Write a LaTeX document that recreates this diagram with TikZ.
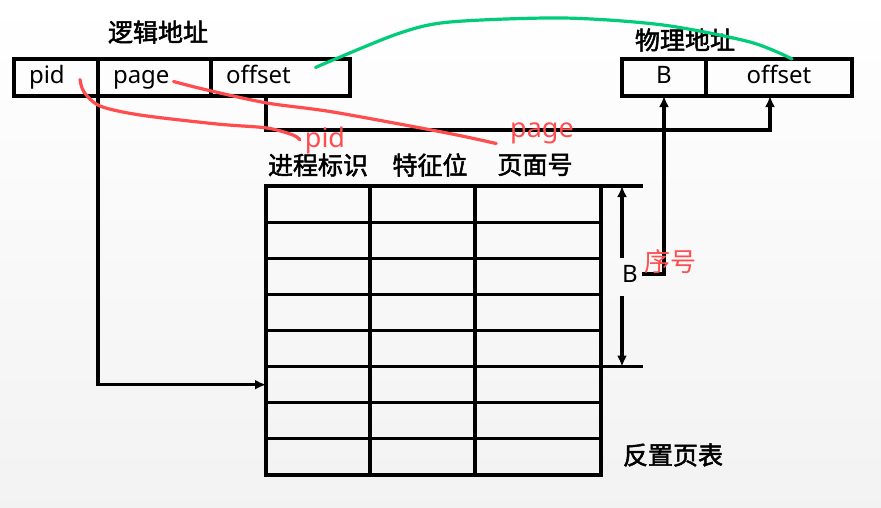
\documentclass[tikz,border=0pt]{standalone}
\usepackage{fontspec}
\setmainfont{Noto Sans}
\newfontfamily\cjk[AutoFakeBold=2]{Noto Sans CJK SC}
\usetikzlibrary{arrows.meta, positioning, calc}

\definecolor{penred}{HTML}{FF4D4F}
\definecolor{pengreen}{HTML}{00CC7A}

\tikzset{
  cell/.style={draw, outer sep=0pt, inner sep=0pt, minimum height=37pt, text height=17pt, text depth=5pt, font=\fontsize{24}{28}\selectfont},
  lcell/.style={cell, text width=#1, align=left, inner xsep=15pt},
  pcell/.style={cell, minimum width=#1},
  title/.style={font=\cjk\bfseries\fontsize{25}{30}\selectfont},
  lbl/.style={inner sep=3pt, font=\fontsize{24}{28}\selectfont},
  link/.style={-{Latex[length=11pt,width=10pt]}},
  pen/.style={line width=3.2pt, line cap=round, line join=round},
  note/.style={text=penred, font=\fontsize{27}{30}\selectfont}
}

\begin{document}
\begin{tikzpicture}[x=1pt, y=-1pt, line width=3.2pt]
    \fill[top color=white, bottom color=black!5] (0,0) rectangle (881,507);
    \useasboundingbox (0,0) rectangle (881,507);

    % logical address
    \node[title] (ltitle) at (158,32) {逻辑地址};
    \node[lcell=54pt] (pid) at (56,77.5) {pid};
    \node[lcell=83pt, right=0pt of pid] (page) {page};
    \node[lcell=109pt, right=0pt of page] (offset) {offset};

    % physical address
    \node[title] (ptitle) at (685,40) {物理地址};
    \node[pcell=84pt] (B) at (664,77.5) {B};
    \node[pcell=146pt, right=0pt of B] (poff) {offset};

    % inverted page table
    \coordinate (tl) at (266,186);
    \coordinate (tr) at (601,186);
    \coordinate (br) at (601,475);
    \coordinate (r5) at (601,366.6);
    \coordinate (row6) at (266,384.7);
    \draw (tl) rectangle (br);
    \foreach \r in {1,...,7}
        \draw (266,186+\r*36.125) -- (601,186+\r*36.125);
    \foreach \c in {370,475}
        \draw (\c,186) -- (\c,475);

    \node[title] (hpid) at (318,165) {进程标识};
    \node[title] (hbit) at (430,165) {特征位};
    \node[title] (hpage) at (535,165) {页面号};
    \node[title] (tname) at (673,455) {反置页表};

    % B range
    \draw (tr) -- (643,186);
    \draw (r5) -- (643,366.6);
    \node[lbl] (blab) at (630,274) {B};
    \draw[link] (622,258) -- (622,186);
    \draw[link] (622,296) -- (622,366.6);

    % connectors
    \draw[link] (pid.south east) |- (row6);
    \draw[link] (offset.south -| tl) -- ++(0,34) -| ($(poff.south)+(-9,0)$);
    \draw[link] (blab.east) -| (B.south);

    % hand notes
    \node[note] (rpid) at (325,140) {pid};
    \node[note] (rpage) at (542,133) {page};
    \node[note, font=\cjk\fontsize{26}{30}\selectfont] (rseq) at (670,262) {序号};
    \draw[pen, penred] plot[smooth] coordinates {($(pid.center)+(24,2)$) (84,92) (100,106) (140,115) (217,124) (267,128) (293,135) (rpid.west)};
    \draw[pen, penred] plot[smooth] coordinates {($(page.center)+(19,4)$) (207,90) (267,103) (333,112) (447,133) ($(rpage.south west)+(-9,-5)$)};
    \draw[pen, pengreen] plot[smooth] coordinates {($(offset.center)+(35,-10)$) (333,60) (400,33) (450,22) (563,18) (663,25) (750,42) ($(poff.north)+(13,0)$)};
\end{tikzpicture}
\end{document}
